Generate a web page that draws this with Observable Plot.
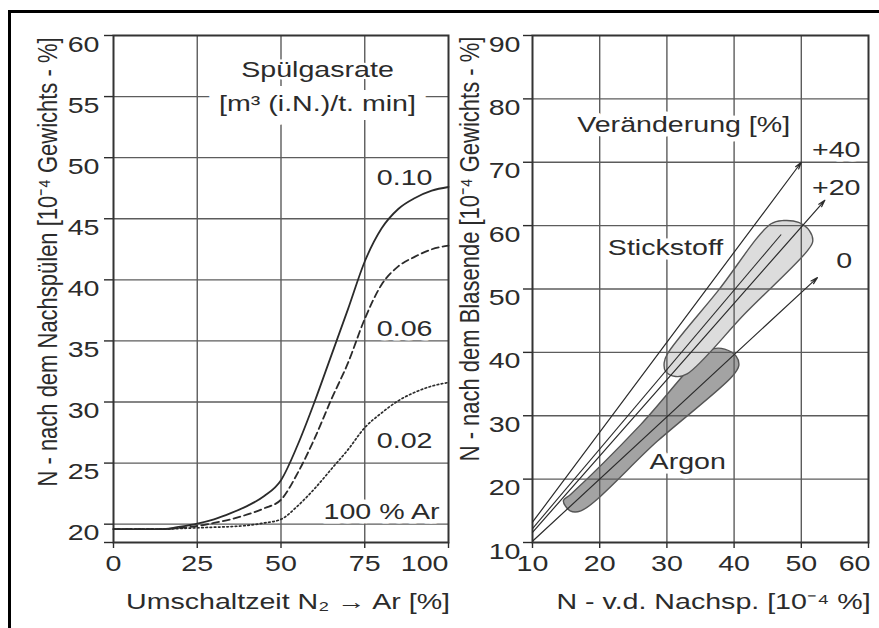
<!DOCTYPE html>
<html>
<head>
<meta charset="utf-8">
<script src="https://cdn.jsdelivr.net/npm/d3@7"></script>
<script src="https://cdn.jsdelivr.net/npm/@observablehq/plot@0.6"></script>
<style>
  body { margin: 0; background: #fff; }
  #wrap { position: relative; width: 879px; height: 628px; overflow: hidden; background: #fff; }
  #left, #right { position: absolute; top: 0; }
  #left { left: 0; width: 460px; }
  #right { left: 460px; width: 419px; }
  #border { position: absolute; left: 8px; top: 10px; width: 900px; height: 700px;
            border-left: 3px solid #000; border-top: 3px solid #000; z-index: 5; pointer-events: none; }
</style>
</head>
<body>
<div id="wrap">
  <div id="left"></div>
  <div id="right"></div>
  <div id="border"></div>
</div>
<script>
// ---------- data: left panel ----------
const switchTime = [0, 5, 10, 15, 20, 25, 30, 35, 40, 45, 50, 55, 60, 65, 70, 75, 80, 85, 90, 95, 100];
const rate010 = [19.6, 19.6, 19.6, 19.6, 19.8, 20.05, 20.4, 20.9, 21.5, 22.3, 23.6, 26.5, 30.0, 33.8, 37.6, 41.5, 44.2, 45.8, 46.7, 47.3, 47.6];
const rate006 = [19.6, 19.6, 19.6, 19.6, 19.7, 19.85, 20.1, 20.4, 20.8, 21.3, 22.0, 24.2, 27.0, 30.2, 33.2, 36.8, 39.6, 41.1, 41.9, 42.5, 42.8];
const rate002 = [19.6, 19.6, 19.6, 19.6, 19.65, 19.7, 19.75, 19.8, 19.9, 20.1, 20.4, 21.5, 22.9, 24.5, 26.1, 27.9, 29.1, 30.1, 30.8, 31.3, 31.6];
const leftXTicks = [0, 25, 50, 75, 100];
const leftYTicks = [20, 25, 30, 35, 40, 45, 50, 55, 60];
const leftYMin = 18.5;
const titleLabel = [{text: "Spülgasrate", x: 60.9, y: 57.2}];
const unitLabel = [{text: "[m³ (i.N.)/t. min]", x: 60.9, y: 54.4}];
const curveLabels = [
  {text: "0.10", x: 86.9, y: 48.3},
  {text: "0.06", x: 86.9, y: 36.0},
  {text: "0.02", x: 86.9, y: 26.8},
  {text: "100 % Ar", x: 80.0, y: 21.0}
];
const leftXTitle = "Umschaltzeit N₂ → Ar [%]";
const leftYTitle = "N - nach dem Nachspülen [10⁻⁴ Gewichts - %]";

// ---------- data: right panel ----------
const rightXTicks = [10, 20, 30, 40, 50, 60];
const rightYTicks = [10, 20, 30, 40, 50, 60, 70, 80, 90];
const changeArrows = [
  {name: "+40", x1: 10, y1: 13.2, x2: 50, y2: 70},
  {name: "+20", x1: 10, y1: 11.6, x2: 53.5, y2: 64.0},
  {name: "0",   x1: 10, y1: 10.2, x2: 52.4, y2: 51.8}
];
const extraLines = [
  {x1: 10, y1: 12.2, x2: 47.0, y2: 58.6}
];
const stickstoff = [
  [30.1, 39.8], [37.6, 49.7], [45.5, 60.3], [47.4, 60.8], [49.6, 60.5], [51.2, 59.2],
  [51.7, 57.5], [50.8, 55.9], [41.7, 46.2], [33.0, 36.6], [31.3, 36.2], [29.8, 37.0], [29.6, 38.4]
];
const argon = [
  [14.6, 16.6], [15.7, 17.6], [26.1, 28.6], [35.5, 39.8], [37.0, 40.6], [38.6, 40.5],
  [40.3, 39.4], [40.7, 37.9], [39.8, 36.3], [28.6, 26.0], [17.2, 15.0], [15.6, 15.0]
];
const rightLabels = [
  {text: "Veränderung [%]", x: 32.5, y: 75.9},
  {text: "+40", x: 55.2, y: 72.0},
  {text: "+20", x: 55.2, y: 65.9},
  {text: "0", x: 56.4, y: 54.5},
  {text: "Stickstoff", x: 29.8, y: 56.4},
  {text: "Argon", x: 33.1, y: 22.7}
];
const rightXTitle = "N - v.d. Nachsp. [10⁻⁴ %]";
const rightYTitle = "N - nach dem Blasende [10⁻⁴ Gewichts - %]";

// ---------- styles ----------
const font = "'Liberation Sans', Arial, Helvetica, sans-serif";
const ink = "#2b2b2b";
const gridColor = "#5c5c5c";
const fs = 22;
const gridOpts = {stroke: gridColor, strokeOpacity: 1, strokeWidth: 1.4};
const plotStyle = {fontFamily: font, fontSize: fs + "px", color: ink, background: "transparent", overflow: "visible"};
const labelOpts = {fill: ink, stroke: "white", strokeWidth: 9, fontSize: fs, textAnchor: "middle", lineAnchor: "middle"};

function stretchText(svg) {
  svg.querySelectorAll("text").forEach(t => {
    let tr = t.getAttribute("transform") || "";
    const x = +(t.getAttribute("x") || 0), y = +(t.getAttribute("y") || 0);
    if (x || y) { tr = `translate(${x},${y}) ` + tr; t.removeAttribute("x"); t.removeAttribute("y"); }
    if (/rotate/.test(tr)) t.setAttribute("transform", tr + " scale(1,1.22)");
    else t.setAttribute("transform", tr + " scale(1.3,1)");
  });
}

// ---------- left panel ----------
const leftPlot = Plot.plot({
  width: 460, height: 628,
  marginLeft: 113, marginRight: 12, marginTop: 35, marginBottom: 86,
  style: plotStyle,
  x: {domain: [0, 100], axis: null},
  y: {domain: [leftYMin, 60], axis: null},
  marks: [
    Plot.gridX(leftXTicks.slice(1, -1), gridOpts),
    Plot.gridY(leftYTicks.slice(0, -1), gridOpts),
    Plot.axisX(leftXTicks, {anchor: "bottom", tickSize: 6, tickFormat: () => "", stroke: ink, strokeWidth: 1.4, label: null}),
    Plot.axisY([leftYMin, ...leftYTicks], {anchor: "left", tickSize: 9, tickFormat: () => "", stroke: ink, strokeWidth: 1.4, label: null}),
    Plot.frame({stroke: "#333", strokeWidth: 2}),
    Plot.line(switchTime, {x: d => d, y: (d, i) => rate002[i], curve: "monotone-x", stroke: ink, strokeWidth: 1.7, strokeDasharray: "1.6,2.6"}),
    Plot.line(switchTime, {x: d => d, y: (d, i) => rate006[i], curve: "monotone-x", stroke: ink, strokeWidth: 1.8, strokeDasharray: "7,4"}),
    Plot.line(switchTime, {x: d => d, y: (d, i) => rate010[i], curve: "monotone-x", stroke: ink, strokeWidth: 1.8}),
    Plot.text(titleLabel, {x: "x", y: "y", text: "text", ...labelOpts, strokeWidth: 5}),
    Plot.text(unitLabel, {x: "x", y: "y", text: "text", ...labelOpts, strokeWidth: 18}),
    Plot.text(curveLabels, {x: "x", y: "y", text: "text", ...labelOpts}),
    Plot.text(leftYTicks, {frameAnchor: "left", y: d => d, text: d => String(d), textAnchor: "end", lineAnchor: "middle", dx: -14, dy: 9, fill: ink, fontSize: fs}),
    Plot.text(leftXTicks.slice(0, -1), {frameAnchor: "bottom", x: d => d, text: d => String(d), textAnchor: "middle", lineAnchor: "middle", dy: 21, fill: ink, fontSize: fs}),
    Plot.text(leftXTicks.slice(-1), {frameAnchor: "bottom", x: d => d, text: d => String(d), textAnchor: "end", lineAnchor: "middle", dy: 21, fill: ink, fontSize: fs}),
    Plot.text([leftXTitle], {frameAnchor: "bottom", text: d => d, textAnchor: "middle", lineAnchor: "middle", dx: 7, dy: 59, fill: ink, fontSize: fs}),
    Plot.text([leftYTitle], {frameAnchor: "left", text: d => d, rotate: -90, textAnchor: "middle", lineAnchor: "middle", dx: -65, dy: -27, fill: ink, fontSize: fs})
  ]
});
stretchText(leftPlot);
document.getElementById("left").appendChild(leftPlot);

// ---------- right panel ----------
const rightPlot = Plot.plot({
  width: 419, height: 628,
  marginLeft: 72, marginRight: 11, marginTop: 35, marginBottom: 86,
  style: plotStyle,
  x: {domain: [10, 60], axis: null},
  y: {domain: [10, 90], axis: null},
  marks: [
    Plot.line(argon, {x: d => d[0], y: d => d[1], curve: "catmull-rom-closed", fill: "#a3a3a3", stroke: "#555", strokeWidth: 1.4}),
    Plot.line(stickstoff, {x: d => d[0], y: d => d[1], curve: "catmull-rom-closed", fill: "#dcdcdc", stroke: "#555", strokeWidth: 1.4}),
    Plot.gridX(rightXTicks.slice(1, -1), gridOpts),
    Plot.gridY(rightYTicks.slice(1, -1), gridOpts),
    Plot.axisX(rightXTicks, {anchor: "bottom", tickSize: 6, tickFormat: () => "", stroke: ink, strokeWidth: 1.4, label: null}),
    Plot.axisY(rightYTicks, {anchor: "left", tickSize: 9, tickFormat: () => "", stroke: ink, strokeWidth: 1.4, label: null}),
    Plot.frame({stroke: "#333", strokeWidth: 2}),
    Plot.link(extraLines, {x1: "x1", y1: "y1", x2: "x2", y2: "y2", stroke: ink, strokeWidth: 1.1}),
    Plot.arrow(changeArrows, {x1: "x1", y1: "y1", x2: "x2", y2: "y2", stroke: ink, strokeWidth: 1.2, headLength: 9, headAngle: 30}),
    Plot.text(rightLabels, {x: "x", y: "y", text: "text", ...labelOpts}),
    Plot.text(rightYTicks, {frameAnchor: "left", y: d => d, text: d => String(d), textAnchor: "end", lineAnchor: "middle", dx: -12, dy: 9, fill: ink, fontSize: fs}),
    Plot.text(rightXTicks.slice(0, -1), {frameAnchor: "bottom", x: d => d, text: d => String(d), textAnchor: "middle", lineAnchor: "middle", dy: 21, fill: ink, fontSize: fs}),
    Plot.text(rightXTicks.slice(-1), {frameAnchor: "bottom", x: d => d, text: d => String(d), textAnchor: "end", lineAnchor: "middle", dx: 2, dy: 21, fill: ink, fontSize: fs}),
    Plot.text([rightXTitle], {frameAnchor: "bottom", text: d => d, textAnchor: "middle", lineAnchor: "middle", dx: 13, dy: 59, fill: ink, fontSize: fs}),
    Plot.text([rightYTitle], {frameAnchor: "left", text: d => d, rotate: -90, textAnchor: "middle", lineAnchor: "middle", dx: -62, dy: -40, fill: ink, fontSize: fs})
  ]
});
stretchText(rightPlot);
document.getElementById("right").appendChild(rightPlot);
</script>
</body>
</html>
